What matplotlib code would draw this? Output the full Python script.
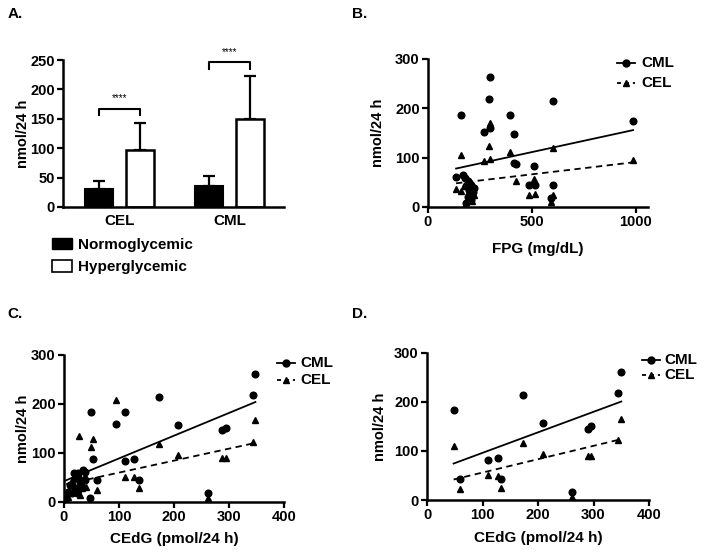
import matplotlib
matplotlib.use("Agg")
import matplotlib.pyplot as plt
import numpy as np
from matplotlib.lines import Line2D
from matplotlib.patches import Patch

plt.rcParams['font.family'] = ['Liberation Sans', 'DejaVu Sans']
plt.rcParams['font.weight'] = 'bold'
plt.rcParams['axes.labelweight'] = 'bold'

# ---------------- Panel A data ----------------
a_categories = ["CEL", "CML"]
a_groups = ["Normoglycemic", "Hyperglycemic"]
a_normo_mean = [30, 36]
a_normo_sd = [14, 16]
a_hyper_mean = [97, 150]
a_hyper_sd = [46, 72]
a_sig = ["****", "****"]

# ---------------- Panel B data (FPG vs adducts) ----------------
b_cml_x = [299, 292, 160, 396, 601, 986, 268, 300, 415, 415, 425, 508, 484, 513, 601, 593,
           135, 167, 180, 190, 200, 185, 210, 195, 215, 200, 190, 205, 185, 212, 220]
b_cml_y = [263, 218, 186, 186, 215, 174, 153, 160, 147, 90, 87, 84, 45, 45, 44, 18,
           61, 65, 58, 52, 47, 42, 40, 35, 30, 25, 20, 15, 8, 22, 38]
b_cel_x = [300, 292, 160, 396, 268, 300, 601, 986, 425, 508, 484, 513, 601, 593,
           135, 160, 175, 190, 200, 210, 185, 215, 195, 205, 220, 180]
b_cel_y = [170, 124, 105, 112, 93, 97, 119, 95, 53, 56, 24, 26, 24, 11,
           37, 32, 42, 28, 18, 12, 10, 45, 50, 33, 25, 5]
b_cml_fit = [0.0915, 65.6]   # slope, intercept
b_cel_fit = [0.0499, 41.3]

# ---------------- Panel C data (CEdG vs adducts, all) ----------------
c_cml_x = [348, 343, 172, 49, 111, 95, 208, 288, 294, 52, 110, 128, 136, 60, 47, 261,
           18, 26, 35, 38, 22, 29, 11, 20, 38, 32, 8, 14, 23, 2]
c_cml_y = [261, 218, 214, 184, 184, 159, 157, 147, 151, 87, 83, 87, 44, 44, 7, 17,
           58, 59, 65, 61, 48, 41, 34, 29, 44, 31, 20, 17, 17, 7]
c_cel_x = [95, 28, 52, 49, 110, 128, 136, 60, 172, 208, 288, 294, 344, 348, 261,
           22, 14, 29, 38, 18, 25, 32, 8, 29, 40, 4]
c_cel_y = [208, 134, 128, 111, 51, 51, 29, 24, 117, 95, 90, 90, 123, 167, 7,
           52, 44, 50, 53, 34, 24, 27, 10, 14, 30, 5]
c_cml_fit = [0.465, 42.0]
c_cel_fit = [0.245, 35.0]

# ---------------- Panel D data (CEdG vs adducts, subset) ----------------
d_cml_x = [48, 60, 110, 128, 134, 173, 209, 262, 290, 296, 345, 350]
d_cml_y = [183, 42, 81, 86, 42, 214, 157, 16, 145, 151, 217, 261]
d_cel_x = [48, 60, 110, 128, 134, 173, 209, 262, 290, 296, 345, 350]
d_cel_y = [109, 22, 51, 49, 25, 117, 94, 7, 90, 90, 122, 165]
d_cml_fit = [0.418, 54.2]
d_cel_fit = [0.272, 28.7]

W, H = 704, 556
fig = plt.figure(figsize=(W / 100, H / 100), dpi=100)


def fx(px):
    return px / W


def fy(py):
    return 1 - py / H


def axes_px(l, r, b, t):
    return fig.add_axes([l / W, 1 - b / H, (r - l) / W, (b - t) / H])


def style(ax):
    for s in ["top", "right"]:
        ax.spines[s].set_visible(False)
    for s in ["left", "bottom"]:
        ax.spines[s].set_linewidth(1.8)
    ax.tick_params(width=1.6, length=4, labelsize=10.5, pad=2)


LABFS = 10.5

# ---------------- Panel A ----------------
axA = axes_px(63, 284, 207, 60)
style(axA)
xc = np.arange(len(a_categories))
off = 0.186
bw = 0.255
axA.bar(xc - off, a_normo_mean, bw, color="black", edgecolor="black", linewidth=1.5,
        zorder=2)
axA.bar(xc + off, a_hyper_mean, bw, color="white", edgecolor="black", linewidth=1.8,
        zorder=2)
axA.errorbar(xc - off, a_normo_mean, yerr=[np.zeros(2), a_normo_sd], fmt="none",
             ecolor="black", elinewidth=1.6, capsize=4.6, capthick=1.6, zorder=1)
axA.errorbar(xc + off, a_hyper_mean, yerr=[np.zeros(2), a_hyper_sd], fmt="none",
             ecolor="black", elinewidth=1.6, capsize=4.6, capthick=1.6, zorder=1)
axA.set_xlim(-0.514, 1.495)
axA.set_ylim(0, 250)
axA.set_yticks([0, 50, 100, 150, 200, 250])
axA.set_xticks(xc)
axA.set_xticklabels(a_categories, fontsize=11)
axA.tick_params(axis="x", length=0, pad=5)
axA.set_ylabel("nmol/24 h", fontsize=LABFS)
axA.yaxis.set_label_coords((30 - 63) / 221, 0.5)
for i in range(2):
    top = a_hyper_mean[i] + a_hyper_sd[i]
    yb = top + 24
    x0, x1 = xc[i] - off, xc[i] + off
    axA.plot([x0, x0, x1, x1], [yb - 11, yb, yb, yb - 11], color="black", lw=1.5,
             clip_on=False)
    axA.text(xc[i], yb + 9, a_sig[i], ha="center", va="bottom", fontsize=7,
             fontweight="normal", clip_on=False)
fig.legend(handles=[Patch(facecolor="black", edgecolor="black"),
                    Patch(facecolor="white", edgecolor="black", linewidth=1.2)],
           labels=a_groups, loc="upper left", bbox_to_anchor=(fx(52), fy(238)),
           frameon=False, fontsize=11, handlelength=1.3, handleheight=0.75,
           handletextpad=0.4, labelspacing=0.55, borderpad=0, borderaxespad=0)


def manual_legend(x0, x1, xt, y_cml, y_cel):
    xm = (x0 + x1) / 2
    fig.add_artist(Line2D([fx(x0), fx(x1)], [fy(y_cml)] * 2, color="black", lw=1.3,
                          transform=fig.transFigure))
    fig.add_artist(Line2D([fx(xm)], [fy(y_cml)], color="black", marker="o", ms=5,
                          transform=fig.transFigure))
    fig.add_artist(Line2D([fx(x0), fx(x1)], [fy(y_cel)] * 2, color="black", lw=1.3,
                          ls="--", dashes=(2.2, 2.2), transform=fig.transFigure))
    fig.add_artist(Line2D([fx(xm)], [fy(y_cel)], color="black", marker="^", ms=5,
                          transform=fig.transFigure))
    fig.text(fx(xt), fy(y_cml), "CML", fontsize=11, va="center", ha="left")
    fig.text(fx(xt), fy(y_cel), "CEL", fontsize=11, va="center", ha="left")


def scatter_panel(ax, cx, cy, ex, ey, cfit, efit, xlim, xticks, xlabel, ylab_x, xpad):
    style(ax)
    ax.plot(cx, cy, "o", color="black", ms=4.8, zorder=3)
    ax.plot(ex, ey, "^", color="black", ms=5.0, zorder=3)
    xs = np.array([min(cx), max(cx)])
    ax.plot(xs, cfit[0] * xs + cfit[1], "-", color="black", lw=1.3, zorder=2)
    xs2 = np.array([min(ex), max(ex)])
    ax.plot(xs2, efit[0] * xs2 + efit[1], "--", color="black", lw=1.3,
            dashes=(3.5, 2.5), zorder=2)
    ax.set_xlim(*xlim)
    ax.set_ylim(0, 300)
    ax.set_yticks([0, 100, 200, 300])
    ax.set_xticks(xticks)
    ax.set_xlabel(xlabel, fontsize=11, labelpad=xpad)
    ax.set_ylabel("nmol/24 h", fontsize=LABFS)
    ax.yaxis.set_label_coords(ylab_x, 0.5)


# ---------------- Panel B ----------------
axB = axes_px(428, 648, 207, 59)
scatter_panel(axB, b_cml_x, b_cml_y, b_cel_x, b_cel_y, b_cml_fit, b_cel_fit,
              (0, 1058), [0, 500, 1000], "FPG (mg/dL)", (385.5 - 428) / 220, 9)
manual_legend(617, 635, 641, 63, 83)

# ---------------- Panel C ----------------
axC = axes_px(64, 284, 501.7, 355)
scatter_panel(axC, c_cml_x, c_cml_y, c_cel_x, c_cel_y, c_cml_fit, c_cel_fit,
              (0, 400), [0, 100, 200, 300, 400], "CEdG (pmol/24 h)", (30 - 64) / 220, 6)
manual_legend(277, 295, 300, 363, 380)

# ---------------- Panel D ----------------
axD = axes_px(427, 649, 500, 352.7)
scatter_panel(axD, d_cml_x, d_cml_y, d_cel_x, d_cel_y, d_cml_fit, d_cel_fit,
              (0, 400), [0, 100, 200, 300, 400], "CEdG (pmol/24 h)", (387 - 427) / 222, 6)
manual_legend(642, 660, 664, 360, 375)

# Panel letters
for lab, (x, y) in {"A.": (8, 14), "B.": (352, 14), "C.": (7, 314), "D.": (352, 314)}.items():
    fig.text(x / W, 1 - y / H, lab, fontsize=11, fontweight="bold", va="center", ha="left")

fig.savefig("out.png", dpi=100)
